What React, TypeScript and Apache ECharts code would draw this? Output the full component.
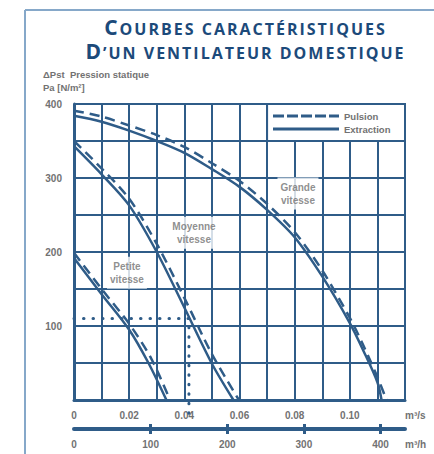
import React, { useEffect, useRef } from "react";
import * as echarts from "echarts";

// Débit en m³/s, pression statique en Pa
const grandeExtraction: [number, number][] = [[0, 384], [0.01, 376], [0.02, 364], [0.03, 350], [0.04, 334], [0.05, 312], [0.06, 288], [0.07, 257], [0.08, 220], [0.09, 167], [0.1, 104], [0.105, 66], [0.11, 24], [0.1115, 0]];
const grandePulsion: [number, number][] = [[0, 391], [0.01, 383], [0.02, 371], [0.03, 358], [0.04, 342], [0.05, 320], [0.06, 296], [0.07, 265], [0.08, 227], [0.09, 175], [0.1, 111], [0.105, 73], [0.11, 31], [0.1133, 0]];
const moyenneExtraction: [number, number][] = [[0, 343], [0.01, 305], [0.02, 263], [0.03, 200], [0.04, 125], [0.05, 49], [0.0578, 0]];
const moyennePulsion: [number, number][] = [[0, 350], [0.01, 313], [0.02, 272], [0.03, 211], [0.04, 138], [0.05, 62], [0.0598, 0]];
const petiteExtraction: [number, number][] = [[0, 192], [0.01, 143], [0.02, 95], [0.027, 50], [0.0335, 0]];
const petitePulsion: [number, number][] = [[0, 199], [0.01, 150], [0.02, 103], [0.028, 56], [0.0348, 0]];
const operatingPoint: [number, number][] = [[0, 110], [150 / 3600, 110], [150 / 3600, -27]];
const speedLabels = [
  { name: "Grande\nvitesse", value: [0.0812, 279] },
  { name: "Moyenne\nvitesse", value: [0.0435, 226] },
  { name: "Petite\nvitesse", value: [0.0192, 172] },
];
const flowTicksM3h = [100, 200, 300, 400];
const flowLabelsM3h = [0, 100, 200, 300, 400];
const titleLine1 = ["C", "OURBES CARACTÉRISTIQUES"];
const titleLine2 = ["D", "’UN VENTILATEUR DOMESTIQUE"];

const BLUE = "#2f5c88";
const GRAY = "#727272";
const TITLE = "#1c4a7a";
const FONT = "'Liberation Sans', Arial, sans-serif";
const TFONT = "'Open Sans', sans-serif";

const spaced = (s: string, key: string) =>
  s.split("").map((ch) => `{${key}|${ch}}`).join("");

const PULSION_ICON =
  "path://M0,0h11v3h-11z M14,0h11v3h-11z M28,0h11v3h-11z M42,0h11v3h-11z M56,0h10v3h-10z";

export default function App() {
  const ref = useRef<HTMLDivElement>(null);
  useEffect(() => {
    document.body.style.margin = "0";
    const chart = echarts.init(ref.current!, null, { renderer: "svg" });
    const lineSeries = (name: string, data: [number, number][], dashed: boolean) => ({
      type: "line",
      name,
      data,
      symbol: "none",
      showSymbol: false,
      smooth: 0.3,
      lineStyle: { color: BLUE, width: 2.5, type: dashed ? [10, 6] : "solid" },
      itemStyle: { color: BLUE },
      z: 3,
    });
    const axisLbl = { color: GRAY, fontWeight: "bold", fontSize: 10, fontFamily: FONT };
    const titleRich = {
      b: { fontSize: 21, fontWeight: "bold", fill: TITLE, fontFamily: TFONT, verticalAlign: "bottom", padding: [0, 1, 0, 0] },
      s: { fontSize: 16, fontWeight: "bold", fill: TITLE, fontFamily: TFONT, verticalAlign: "bottom", padding: [0, 1, 0, 1] },
    };
    chart.setOption({
      animation: false,
      backgroundColor: "#fff",
      grid: { left: 74, right: 29, top: 104, bottom: 54 },
      legend: {
        orient: "vertical",
        left: 273,
        top: 111,
        itemWidth: 66,
        itemHeight: 3,
        itemGap: 3,
        padding: 0,
        data: [
          { name: "Pulsion", icon: PULSION_ICON },
          { name: "Extraction", icon: "rect" },
        ],
        itemStyle: { color: BLUE },
        textStyle: { color: GRAY, fontSize: 9.5, fontWeight: "bold", fontFamily: FONT },
      },
      xAxis: [
        {
          type: "value",
          min: 0,
          max: 0.12,
          interval: 0.01,
          axisLine: { show: true, lineStyle: { color: BLUE, width: 3 } },
          axisTick: { show: false },
          splitLine: { show: true, lineStyle: { color: BLUE, width: 2 } },
          axisLabel: {
            ...axisLbl,
            margin: 10,
            formatter: (v: number) => {
              const k = Math.round(v * 100);
              if (k % 2 !== 0 || k > 10) return "";
              return k === 0 ? "0" : (k / 100).toFixed(2);
            },
          },
        },
        {
          type: "value",
          min: 0,
          max: 432,
          position: "bottom",
          offset: 29,
          axisLine: { show: true, lineStyle: { color: BLUE, width: 4 } },
          axisTick: { show: true, customValues: flowTicksM3h, length: 5, lineStyle: { color: BLUE, width: 3 } },
          splitLine: { show: false },
          axisLabel: { ...axisLbl, margin: 10, customValues: flowLabelsM3h },
        },
        {
          type: "value",
          min: 0,
          max: 432,
          position: "bottom",
          offset: 29,
          axisLine: { show: false },
          axisTick: { show: true, inside: true, customValues: flowTicksM3h, length: 5, lineStyle: { color: BLUE, width: 3 } },
          splitLine: { show: false },
          axisLabel: { show: false },
        },
      ],
      yAxis: {
        type: "value",
        min: 0,
        max: 400,
        interval: 50,
        axisLine: { show: true, lineStyle: { color: BLUE, width: 3 } },
        axisTick: { show: false },
        splitLine: { show: true, lineStyle: { color: BLUE, width: 2 } },
        axisLabel: { ...axisLbl, margin: 12, formatter: (v: number) => (v % 100 === 0 && v > 0 ? String(v) : "") },
      },
      series: [
        {
          ...lineSeries("Pulsion", grandePulsion, true),
          markArea: {
            silent: true,
            itemStyle: { color: "#fff", borderColor: BLUE, borderWidth: 2 },
            data: [[{ coord: [0.07, 350] }, { coord: [0.12, 400] }]],
          },
        },
        lineSeries("Extraction", grandeExtraction, false),
        lineSeries("Pulsion", moyennePulsion, true),
        lineSeries("Extraction", moyenneExtraction, false),
        lineSeries("Pulsion", petitePulsion, true),
        lineSeries("Extraction", petiteExtraction, false),
        {
          type: "line",
          name: "point",
          data: operatingPoint,
          symbol: "none",
          clip: false,
          lineStyle: { color: BLUE, width: 3, type: [0.5, 9], cap: "round" },
          z: 4,
        },
        {
          type: "scatter",
          name: "labels",
          data: speedLabels,
          symbolSize: 0,
          z: 5,
          label: {
            show: true,
            position: "inside",
            formatter: (p: any) => p.name,
            color: GRAY,
            fontSize: 10,
            fontWeight: "bold",
            fontFamily: FONT,
            lineHeight: 13,
            align: "center",
            backgroundColor: "#fff",
            padding: [3, 3],
          },
        },
      ],
      graphic: [
        { type: "line", shape: { x1: 25, y1: 10, x2: 25, y2: 454 }, style: { stroke: "#86a8c9", lineWidth: 2 } },
        { type: "line", shape: { x1: 25, y1: 10, x2: 434, y2: 10 }, style: { stroke: "#86a8c9", lineWidth: 2 } },
        {
          type: "text",
          x: 245,
          y: 37,
          style: {
            text: `{b|${titleLine1[0]}}` + spaced(titleLine1[1], "s"),
            align: "center",
            verticalAlign: "bottom",
            rich: titleRich,
          },
        },
        {
          type: "text",
          x: 245,
          y: 61,
          style: {
            text: `{b|${titleLine2[0]}}` + spaced(titleLine2[1], "s"),
            align: "center",
            verticalAlign: "bottom",
            rich: titleRich,
          },
        },
        {
          type: "text",
          x: 43,
          y: 74,
          style: { text: "ΔPst  Pression statique", fill: GRAY, fontSize: 9.5, fontWeight: "bold", fontFamily: FONT, verticalAlign: "middle" },
        },
        {
          type: "text",
          x: 43,
          y: 87,
          style: { text: "Pa [N/m²]", fill: GRAY, fontSize: 9.5, fontWeight: "bold", fontFamily: FONT, verticalAlign: "middle" },
        },
        {
          type: "text",
          x: 405,
          y: 415,
          style: { text: "m³/s", fill: GRAY, fontSize: 10, fontWeight: "bold", fontFamily: FONT, verticalAlign: "middle" },
        },
        {
          type: "text",
          x: 405,
          y: 444,
          style: { text: "m³/h", fill: GRAY, fontSize: 10, fontWeight: "bold", fontFamily: FONT, verticalAlign: "middle" },
        },
      ],
    });
    return () => chart.dispose();
  }, []);
  return <div ref={ref} style={{ width: 434, height: 454 }} />;
}
